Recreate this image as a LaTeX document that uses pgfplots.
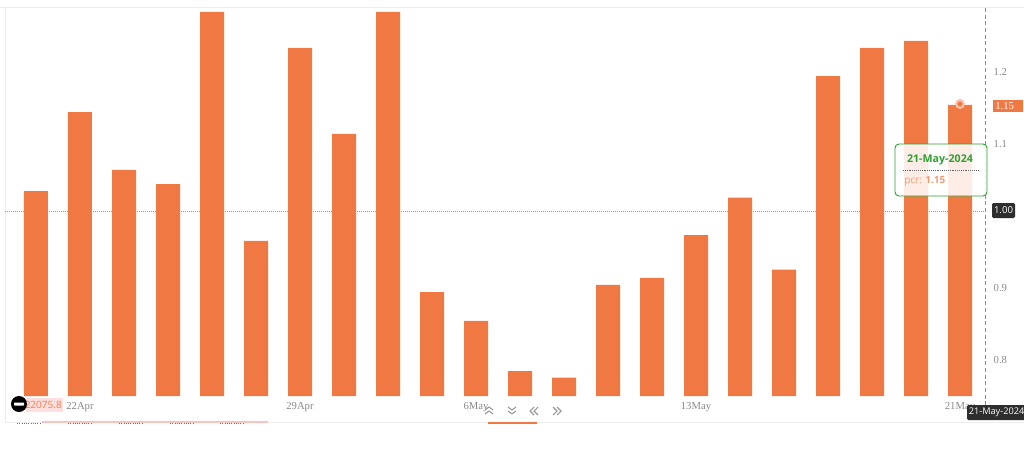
\documentclass[border=0pt]{standalone}
\usepackage{pgfplots}
\pgfplotsset{compat=1.18}
\usepackage{fontspec}
\setmainfont{Liberation Serif}
\newfontfamily\uifont{Open Sans}
\definecolor{barc}{HTML}{F07843}
\definecolor{tickc}{HTML}{8A8A8A}
\definecolor{frame}{HTML}{EDEDED}
\definecolor{tipg}{HTML}{2FA02F}
\begin{document}
\begin{tikzpicture}
\path[use as bounding box] (0pt,0pt) rectangle (768pt,338.25pt);
\clip (0pt,0pt) rectangle (768pt,338.25pt);
\fill[white] (0pt,0pt) rectangle (768pt,338.25pt);
\begin{scope}[yshift=338.25pt,x=0.75pt,y=-0.75pt]
\draw[frame,line width=0.7pt] (0,7) -- (1024,7);
\draw[frame,line width=0.5pt] (5,7) -- (5,422);
\draw[frame,line width=0.7pt] (5,422) -- (1024,422);
\end{scope}
\begin{axis}[
  at={(3.75pt,41.25pt)},anchor=south west,
  scale only axis,width=735pt,height=291pt,
  xmin=-0.7045,xmax=21.568,
  ymin=0.7486,ymax=1.2875,
  axis line style={draw=none},
  ybar,bar width=18pt,
  /pgf/bar shift=0pt,
  clip=true,
  major tick length=0pt,
  xtick={1,6,10,15,21},
  xticklabels={22Apr,29Apr,6May,13May,21May},
  x tick label style={font=\fontsize{8}{9}\selectfont,text=tickc,yshift=-1.2pt},
  ytick={0.8,0.9,1.1,1.2},
  yticklabels={0.8,0.9,1.1,1.2},
  axis y line*=right,
  axis x line*=bottom,
  y tick label style={font=\fontsize{8}{9}\selectfont,text=tickc,xshift=3pt,yshift=-0.7pt},
]
\addplot[fill=barc,draw=none] coordinates {
(0,1.033)(1,1.143)(2,1.0625)(3,1.043)(4,1.282)(5,0.964)(6,1.232)(7,1.1125)(8,1.282)(9,0.893)(10,0.853)
(11,0.783)(12,0.774)(13,0.903)(14,0.9125)(15,0.972)(16,1.024)(17,0.924)(18,1.193)(19,1.232)(20,1.242)(21,1.153)};
\end{axis}
\begin{scope}[yshift=338.25pt,x=0.75pt,y=-0.75pt]
% reference line and crosshair
\draw[black!40,line width=0.5pt,densely dotted] (5,211) -- (985,211);
\draw[black!45,line width=0.5pt,densely dashed] (985,8) -- (985,420);
% hover marker
\fill[barc!45] (960,104) circle (5);
\fill[barc] (960,104) circle (2.5);
% tags on the right
\fill[barc] (993,100) rectangle (1023,112);
\node[text=white,font=\fontsize{8}{9}\selectfont,anchor=west,inner sep=0] at (995,106) {1.15};
\fill[black!82,rounded corners=1pt] (992,203) rectangle (1015,218);
\node[text=white,font=\uifont\fontsize{7.2}{9}\selectfont,inner sep=0] at (1003.5,210.5) {1.00};
% tooltip
\draw[tipg,line width=0.7pt,fill=white,fill opacity=0.87,rounded corners=3pt] (895,144) rectangle (987,196);
\node[text=tipg,font=\uifont\bfseries\fontsize{8}{9}\selectfont,inner sep=0] at (940,160) {21-May-2024};
\draw[black!60,line width=0.4pt,densely dotted] (903,170) -- (978,170);
\node[text=barc!75,font=\uifont\fontsize{7.5}{9}\selectfont,anchor=west,inner sep=0] at (904,181) {pcr: \textbf{1.15}};
% date tag
\fill[black!82,rounded corners=1pt] (967,405) rectangle (1030,420);
\node[text=white,font=\uifont\fontsize{6.9}{9}\selectfont,anchor=west,inner sep=0] at (968.5,412.5) {21-May-2024};
% left widget
\fill[red!12] (26,398) rectangle (63,412);
\node[text=red!40!orange!75,font=\uifont\fontsize{7.5}{9}\selectfont,anchor=east,inner sep=0] at (62,405) {22075.8};
\fill[black] (19,404) circle (8);
\fill[white,rounded corners=0.5pt] (14,402.5) rectangle (24,405.5);
% navigation chevrons
\begin{scope}[black!40,line width=0.8pt]
\draw (485,410) -- (489,407) -- (493,410) (485,414) -- (489,411) -- (493,414);
\draw (508,407) -- (512,410) -- (516,407) (508,411) -- (512,414) -- (516,411);
\draw (534,407) -- (530,411) -- (534,415) (538,407) -- (534,411) -- (538,415);
\draw (553,407) -- (557,411) -- (553,415) (557,407) -- (561,411) -- (557,415);
\end{scope}
% clipped remains below the frame
\draw[red!25,line width=0.8pt] (42,422) -- (268,422);
\draw[barc,line width=0.9pt] (488,423) -- (537,423);
\foreach \a in {17,68,119,170,220}{\draw[black!55,line width=0.7pt,densely dotted] (\a,423) -- (\a+24,423);}
\end{scope}
\end{tikzpicture}
\end{document}
